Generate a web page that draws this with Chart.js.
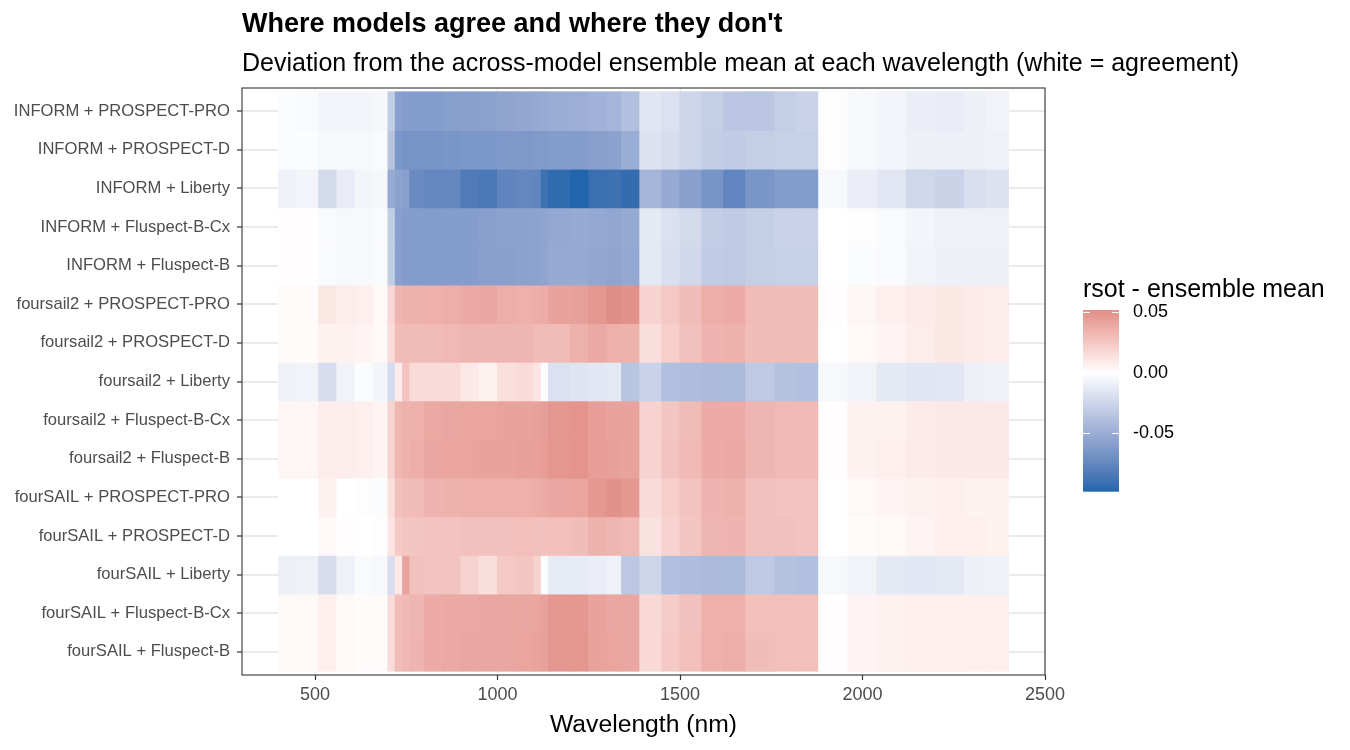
<!DOCTYPE html>
<html><head><meta charset="utf-8">
<script src="https://cdn.jsdelivr.net/npm/chart.js@4.4.1/dist/chart.umd.min.js"></script>
<style>html,body{margin:0;padding:0;background:#fff;}canvas{display:block;}</style>
</head><body>
<canvas id="c" width="1350" height="750"></canvas>
<script>
const titleText = "Where models agree and where they don't";
const subtitleText = "Deviation from the across-model ensemble mean at each wavelength (white = agreement)";
const xTitle = "Wavelength (nm)";
const legendTitle = "rsot - ensemble mean";

const rowLabels = [
  "INFORM + PROSPECT-PRO", "INFORM + PROSPECT-D", "INFORM + Liberty", "INFORM + Fluspect-B-Cx", "INFORM + Fluspect-B",
  "foursail2 + PROSPECT-PRO", "foursail2 + PROSPECT-D", "foursail2 + Liberty", "foursail2 + Fluspect-B-Cx", "foursail2 + Fluspect-B",
  "fourSAIL + PROSPECT-PRO", "fourSAIL + PROSPECT-D", "fourSAIL + Liberty", "fourSAIL + Fluspect-B-Cx", "fourSAIL + Fluspect-B"
];
const binEdges = [400,450,510,560,610,660,700,720,740,760,800,850,900,950,1000,1050,1100,1120,1140,1200,1250,1300,1340,1390,1450,1500,1560,1620,1680,1760,1820,1880,1960,2040,2120,2200,2280,2340,2400];
const xTicks = [500, 1000, 1500, 2000, 2500];
const legendTicks = [0.05, 0.00, -0.05];

const informProspectPro = [-0.002,-0.003,-0.006,-0.006,-0.006,-0.005,-0.030,-0.058,-0.060,-0.060,-0.060,-0.059,-0.058,-0.057,-0.055,-0.054,-0.053,-0.052,-0.050,-0.049,-0.047,-0.045,-0.038,-0.015,-0.018,-0.025,-0.029,-0.034,-0.034,-0.029,-0.027,-0.001,-0.004,-0.006,-0.010,-0.011,-0.009,-0.007];
const informProspectD = [-0.002,-0.002,-0.004,-0.004,-0.004,-0.003,-0.035,-0.064,-0.066,-0.066,-0.066,-0.065,-0.064,-0.064,-0.063,-0.063,-0.062,-0.062,-0.061,-0.061,-0.058,-0.057,-0.050,-0.017,-0.020,-0.025,-0.030,-0.031,-0.029,-0.028,-0.028,-0.001,-0.004,-0.006,-0.009,-0.009,-0.009,-0.008];
const informLiberty = [-0.008,-0.006,-0.022,-0.011,-0.006,-0.005,-0.052,-0.056,-0.058,-0.072,-0.075,-0.075,-0.083,-0.085,-0.077,-0.075,-0.076,-0.090,-0.094,-0.0975,-0.091,-0.090,-0.093,-0.045,-0.052,-0.058,-0.066,-0.076,-0.065,-0.061,-0.061,-0.004,-0.010,-0.014,-0.024,-0.026,-0.019,-0.017];
const informFluspectBCx = [0.001,0.001,-0.003,-0.004,-0.004,-0.003,-0.030,-0.058,-0.061,-0.061,-0.061,-0.060,-0.060,-0.058,-0.057,-0.057,-0.056,-0.055,-0.053,-0.052,-0.053,-0.054,-0.052,-0.013,-0.018,-0.022,-0.030,-0.032,-0.029,-0.027,-0.027,0.000,-0.001,-0.003,-0.006,-0.008,-0.008,-0.008];
const informFluspectB = [0.001,0.001,-0.003,-0.004,-0.004,-0.003,-0.030,-0.058,-0.061,-0.061,-0.061,-0.060,-0.060,-0.058,-0.058,-0.057,-0.056,-0.055,-0.052,-0.052,-0.054,-0.055,-0.053,-0.013,-0.019,-0.023,-0.031,-0.032,-0.029,-0.028,-0.028,0.000,-0.002,-0.003,-0.007,-0.009,-0.009,-0.009];
const foursail2ProspectPro = [0.002,0.002,0.011,0.008,0.007,0.003,0.018,0.033,0.035,0.035,0.036,0.037,0.039,0.040,0.037,0.036,0.037,0.038,0.042,0.043,0.047,0.052,0.050,0.020,0.025,0.030,0.037,0.038,0.031,0.030,0.030,0.001,0.004,0.007,0.009,0.011,0.009,0.008];
const foursail2ProspectD = [0.002,0.002,0.006,0.006,0.005,0.003,0.016,0.030,0.031,0.031,0.031,0.032,0.033,0.033,0.033,0.033,0.031,0.031,0.031,0.035,0.039,0.036,0.035,0.015,0.022,0.028,0.034,0.035,0.030,0.030,0.030,0.000,0.003,0.005,0.008,0.011,0.009,0.008];
const foursail2Liberty = [-0.008,-0.007,-0.020,-0.007,-0.002,-0.006,-0.021,0.008,0.027,0.016,0.016,0.016,0.010,0.006,0.014,0.016,0.012,-0.002,-0.018,-0.016,-0.014,-0.013,-0.035,-0.027,-0.038,-0.040,-0.041,-0.042,-0.032,-0.037,-0.038,-0.004,-0.007,-0.013,-0.015,-0.014,-0.009,-0.008];
const foursail2FluspectBCx = [0.004,0.004,0.008,0.008,0.007,0.005,0.020,0.033,0.035,0.036,0.039,0.040,0.041,0.041,0.042,0.042,0.043,0.044,0.048,0.049,0.044,0.042,0.042,0.020,0.026,0.031,0.038,0.038,0.033,0.032,0.032,0.001,0.006,0.006,0.009,0.010,0.010,0.010];
const foursail2FluspectB = [0.004,0.004,0.008,0.008,0.007,0.005,0.020,0.033,0.035,0.037,0.040,0.041,0.041,0.042,0.042,0.043,0.043,0.045,0.048,0.049,0.044,0.043,0.042,0.020,0.027,0.032,0.038,0.039,0.033,0.032,0.032,0.001,0.006,0.007,0.009,0.010,0.010,0.010];
const fourSAILProspectPro = [0.000,0.000,0.006,0.000,-0.001,-0.002,0.014,0.028,0.030,0.031,0.034,0.035,0.036,0.036,0.036,0.036,0.037,0.038,0.040,0.041,0.047,0.050,0.047,0.016,0.022,0.027,0.034,0.035,0.028,0.027,0.027,0.000,0.003,0.005,0.006,0.007,0.006,0.006];
const fourSAILProspectD = [0.000,0.000,0.003,0.001,0.000,-0.001,0.012,0.024,0.026,0.026,0.027,0.027,0.028,0.028,0.028,0.029,0.028,0.028,0.029,0.030,0.035,0.033,0.032,0.013,0.020,0.026,0.033,0.034,0.028,0.028,0.027,0.000,0.002,0.003,0.005,0.007,0.007,0.006];
const fourSAILLiberty = [-0.009,-0.008,-0.020,-0.008,-0.003,-0.004,-0.020,0.010,0.042,0.028,0.027,0.027,0.020,0.015,0.025,0.026,0.020,-0.002,-0.012,-0.012,-0.010,-0.008,-0.033,-0.025,-0.038,-0.040,-0.041,-0.042,-0.032,-0.037,-0.038,-0.004,-0.007,-0.013,-0.014,-0.013,-0.009,-0.008];
const fourSAILFluspectBCx = [0.003,0.003,0.007,0.003,0.002,0.002,0.016,0.030,0.032,0.033,0.038,0.039,0.039,0.040,0.040,0.040,0.041,0.043,0.047,0.047,0.042,0.040,0.040,0.017,0.023,0.028,0.036,0.036,0.029,0.029,0.029,0.001,0.005,0.006,0.007,0.007,0.007,0.007];
const fourSAILFluspectB = [0.003,0.003,0.007,0.003,0.002,0.002,0.016,0.030,0.032,0.034,0.038,0.039,0.040,0.040,0.040,0.041,0.042,0.043,0.047,0.048,0.042,0.041,0.040,0.017,0.024,0.029,0.036,0.037,0.030,0.029,0.029,0.001,0.005,0.006,0.007,0.007,0.007,0.007];

const rowValues = [informProspectPro, informProspectD, informLiberty, informFluspectBCx, informFluspectB,
  foursail2ProspectPro, foursail2ProspectD, foursail2Liberty, foursail2FluspectBCx, foursail2FluspectB,
  fourSAILProspectPro, fourSAILProspectD, fourSAILLiberty, fourSAILFluspectBCx, fourSAILFluspectB];

const lowColor = '#2166AC', midColor = '#FFFFFF', highColor = '#B2182B';
const FAMILY = '"Liberation Sans", Arial, Helvetica, sans-serif';

// ---- Lab colour interpolation (like ggplot's gradient2) ----
const WX = 0.95047, WY = 1.0, WZ = 1.08883;
function hexToRgb(h) { return [1, 3, 5].map(i => parseInt(h.slice(i, i + 2), 16)); }
function toLin(c) { c /= 255; return c <= 0.04045 ? c / 12.92 : Math.pow((c + 0.055) / 1.055, 2.4); }
function toSrgb(c) { c = Math.max(0, c); const v = c <= 0.0031308 ? 12.92 * c : 1.055 * Math.pow(c, 1 / 2.4) - 0.055; return Math.max(0, Math.min(255, Math.round(v * 255))); }
function fLab(t) { return t > 0.008856 ? Math.cbrt(t) : 7.787 * t + 16 / 116; }
function fInv(t) { return t > 0.206893 ? t * t * t : (t - 16 / 116) / 7.787; }
function hexToLab(h) {
  const [r, g, b] = hexToRgb(h).map(toLin);
  const X = 0.4124 * r + 0.3576 * g + 0.1805 * b, Y = 0.2126 * r + 0.7152 * g + 0.0722 * b, Z = 0.0193 * r + 0.1192 * g + 0.9505 * b;
  const fx = fLab(X / WX), fy = fLab(Y / WY), fz = fLab(Z / WZ);
  return [116 * fy - 16, 500 * (fx - fy), 200 * (fy - fz)];
}
function labToCss(L, a, b) {
  const fy = (L + 16) / 116, fx = fy + a / 500, fz = fy - b / 200;
  const X = WX * fInv(fx), Y = WY * fInv(fy), Z = WZ * fInv(fz);
  const r = 3.2406 * X - 1.5372 * Y - 0.4986 * Z, g = -0.9689 * X + 1.8758 * Y + 0.0415 * Z, bb = 0.0557 * X - 0.2040 * Y + 1.0570 * Z;
  return 'rgb(' + [r, g, bb].map(toSrgb).join(',') + ')';
}
const labLow = hexToLab(lowColor), labMid = hexToLab(midColor), labHigh = hexToLab(highColor);
const allVals = rowValues.flat();
const vMin = Math.min(...allVals), vMax = Math.max(...allVals);
const ext = Math.max(Math.abs(vMin), Math.abs(vMax));
function colorFor(v) {
  const t = Math.min(1, Math.abs(v) / ext);
  const end = v >= 0 ? labHigh : labLow;
  return labToCss(labMid[0] + (end[0] - labMid[0]) * t, labMid[1] + (end[1] - labMid[1]) * t, labMid[2] + (end[2] - labMid[2]) * t);
}

const decor = {
  id: 'decor',
  afterDatasetsDraw(chart) {
    const { ctx, chartArea: a } = chart;
    ctx.save();
    ctx.strokeStyle = '#333333';
    ctx.lineWidth = 1.1;
    ctx.strokeRect(a.left, a.top, a.right - a.left, a.bottom - a.top);
    ctx.restore();
  },
  afterDraw(chart) {
    const { ctx, chartArea: a } = chart;
    ctx.save();
    ctx.fillStyle = '#000000';
    ctx.textAlign = 'left';
    ctx.textBaseline = 'alphabetic';
    ctx.font = 'bold 27px ' + FAMILY;
    ctx.fillText(titleText, a.left, 31.5);
    ctx.font = '25px ' + FAMILY;
    ctx.fillText(subtitleText, a.left, 70.5);
    // colour bar legend
    const lx = 1083, ly = 310, lw = 36, lh = 181;
    ctx.font = '25px ' + FAMILY;
    ctx.fillText(legendTitle, lx, 297);
    const n = 181;
    for (let i = 0; i < n; i++) {
      const v = vMax - (i + 0.5) / n * (vMax - vMin);
      ctx.fillStyle = colorFor(v);
      ctx.fillRect(lx, ly + i * lh / n, lw, lh / n + 0.7);
    }
    ctx.strokeStyle = '#FFFFFF';
    ctx.lineWidth = 1;
    ctx.font = '18px ' + FAMILY;
    ctx.textBaseline = 'middle';
    legendTicks.forEach(v => {
      const y = ly + (vMax - v) / (vMax - vMin) * lh;
      ctx.beginPath();
      ctx.moveTo(lx, y); ctx.lineTo(lx + 7, y);
      ctx.moveTo(lx + lw - 7, y); ctx.lineTo(lx + lw, y);
      ctx.stroke();
      ctx.fillStyle = '#000000';
      ctx.fillText(v.toFixed(2), lx + lw + 14, y);
    });
    ctx.restore();
  }
};

new Chart(document.getElementById('c'), {
  type: 'bar',
  data: {
    datasets: rowValues.map((vals, r) => ({
      label: rowLabels[r],
      data: vals.map((v, j) => ({ x: [binEdges[j], binEdges[j + 1]], y: r })),
      backgroundColor: vals.map(colorFor),
      borderWidth: 0,
      inflateAmount: 0.5
    }))
  },
  options: {
    indexAxis: 'y',
    responsive: false,
    animation: false,
    layout: { padding: { top: 88, right: 305, left: 0, bottom: 0 } },
    datasets: { bar: { grouped: false, categoryPercentage: 1, barPercentage: 1 } },
    plugins: { legend: { display: false }, tooltip: { enabled: false }, title: { display: false } },
    scales: {
      x: {
        type: 'linear', position: 'bottom', min: 300, max: 2500,
        afterBuildTicks: s => { s.ticks = xTicks.map(v => ({ value: v })); },
        afterFit: s => { s.height = 75; },
        grid: { color: '#EBEBEB', lineWidth: 1, tickColor: '#333333', tickLength: 5, tickWidth: 1.2 },
        border: { display: false },
        ticks: { autoSkip: false, maxRotation: 0, padding: 4, color: '#4D4D4D', font: { size: 18, family: FAMILY }, callback: v => String(v) },
        title: { display: true, text: xTitle, color: '#000000', font: { size: 24.7, family: FAMILY }, padding: { top: 0, bottom: 10 } }
      },
      y: {
        type: 'linear', reverse: true, min: -0.6, max: 14.6, offset: false,
        afterBuildTicks: s => { s.ticks = rowLabels.map((_, i) => ({ value: i })); },
        afterFit: s => { s.width = 242; },
        grid: { offset: false, color: '#EBEBEB', lineWidth: 2, tickColor: '#333333', tickLength: 5, tickWidth: 1.2 },
        border: { display: false },
        ticks: { autoSkip: false, padding: 7, color: '#4D4D4D', font: { size: 16.6, family: FAMILY }, callback: v => rowLabels[v] }
      }
    }
  },
  plugins: [decor]
});
</script>
</body></html>
